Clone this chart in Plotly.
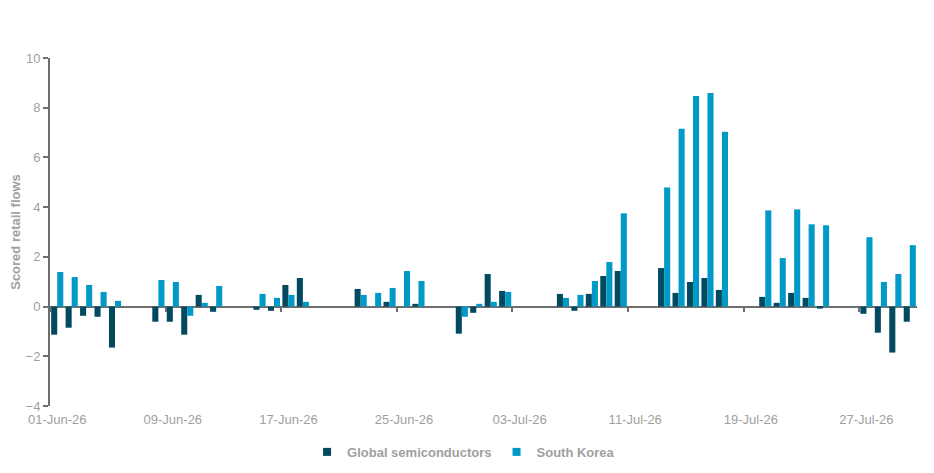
import pandas as pd
import plotly.graph_objects as go

DARK = "#024a60"
LIGHT = "#0099c8"
GREY_TEXT = "#a0a0a0"
GREY_LINE = "#6e6e6e"

# business days, 01-Jun-26 .. 30-Jul-26 (US holidays left empty)
dates = pd.bdate_range("2026-06-01", "2026-07-30")

global_semis = [
    -1.13, -0.85, -0.37, -0.41, -1.65,
    -0.61, -0.61, -1.13, 0.47, -0.21,
    -0.13, -0.17, 0.87, 1.15, None,
    0.71, 0.0, 0.19, 0.0, 0.11,
    -1.09, -0.25,
    1.31, 0.63, None,
    0.51, -0.17, 0.51, 1.23, 1.43,
    1.55, 0.55, 0.99, 1.15, 0.67,
    0.39, 0.15, 0.55, 0.35, -0.08,
    -0.29, -1.05, -1.85, -0.61,
]

south_korea = [
    1.39, 1.19, 0.87, 0.59, 0.23,
    1.07, 0.99, -0.37, 0.15, 0.83,
    0.51, 0.35, 0.47, 0.19, None,
    0.47, 0.55, 0.75, 1.43, 1.03,
    -0.41, 0.11,
    0.19, 0.59, None,
    0.35, 0.47, 1.03, 1.79, 3.75,
    4.79, 7.15, 8.47, 8.59, 7.03,
    3.87, 1.95, 3.91, 3.31, 3.27,
    2.79, 0.99, 1.31, 2.47,
]

series = [("Global semiconductors", global_semis, DARK),
          ("South Korea", south_korea, LIGHT)]

x_range = ["2026-05-31 12:00", "2026-07-30 12:00"]
day_ms = 86400000

fig = go.Figure()
for name, values, color in series:
    fig.add_trace(go.Bar(x=dates, y=values, name=name, showlegend=False,
                         marker=dict(color=color, line_width=0)))
# legend entries with small square keys, like the original
for name, values, color in series:
    fig.add_trace(go.Scatter(x=[dates[0]], y=[None], name=name, mode="markers",
                             marker=dict(symbol="square", size=8, color=color),
                             hoverinfo="skip"))
# empty helper trace so the overlaying tick axis gets drawn
fig.add_trace(go.Scatter(x=[dates[0]], y=[None], xaxis="x2", mode="markers",
                         showlegend=False, hoverinfo="skip"))

# page body has an 8px margin, so the figure is sized to fit inside it
fig.update_layout(
    width=918,
    height=457,
    margin=dict(l=42, r=9, t=50, b=59, autoexpand=False),
    paper_bgcolor="white",
    plot_bgcolor="white",
    barmode="group",
    bargap=0.16,
    bargroupgap=0,
    font=dict(family="Liberation Sans, Arial, sans-serif", size=13, color=GREY_TEXT),
    legend=dict(
        orientation="h",
        x=0.477,
        xanchor="center",
        y=-0.132,
        yanchor="middle",
        font=dict(size=13, color=GREY_TEXT, weight="bold"),
        itemwidth=30,
    ),
    xaxis=dict(
        type="date",
        range=x_range,
        tickmode="linear",
        tick0="2026-06-01",
        dtick=8 * day_ms,
        tickformat="%d-%b-%y",
        showgrid=False,
        showline=False,
        zeroline=False,
        ticks="",
        ticklabelstandoff=4,
        automargin=False,
        tickfont=dict(size=13, color=GREY_TEXT),
    ),
    # tick marks sitting on the zero line, between the days
    xaxis2=dict(
        type="date",
        matches="x",
        overlaying="x",
        anchor="free",
        position=4 / 14,
        tickmode="linear",
        tick0="2026-05-31 12:00",
        dtick=8 * day_ms,
        ticks="outside",
        ticklen=4,
        tickwidth=2,
        tickcolor=GREY_LINE,
        showticklabels=False,
        showgrid=False,
        showline=False,
        zeroline=False,
        automargin=False,
    ),
    yaxis=dict(
        range=[-4, 10],
        dtick=2,
        showgrid=False,
        showline=True,
        linecolor=GREY_LINE,
        linewidth=2,
        ticks="outside",
        ticklen=5,
        tickwidth=1.5,
        tickcolor=GREY_LINE,
        zeroline=True,
        zerolinecolor=GREY_LINE,
        zerolinewidth=2,
        automargin=False,
        tickfont=dict(size=13, color=GREY_TEXT),
        title=dict(text="Scored retail flows", standoff=4,
                   font=dict(size=13, color=GREY_TEXT, weight="bold")),
    ),
)

fig.write_html("out.html")
